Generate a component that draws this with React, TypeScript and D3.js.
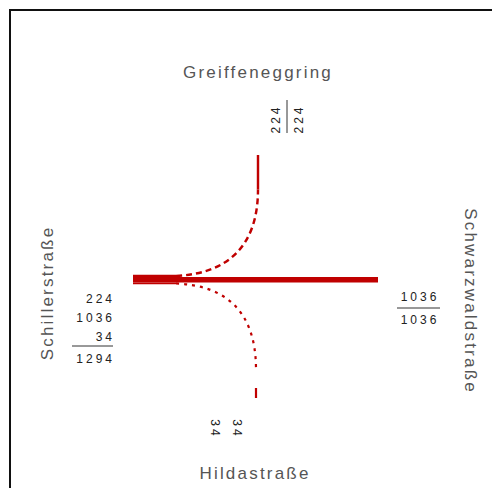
import React from "react";
import * as d3 from "d3";

// ---- data ----
const streetNames = ["Greiffeneggring", "Schwarzwaldstraße", "Hildastraße", "Schillerstraße"]; // N, E, S, W
const flowFrom = ["Schillerstraße", "Schillerstraße", "Schillerstraße"];
const flowTo = ["Greiffeneggring", "Schwarzwaldstraße", "Hildastraße"];
const flowValues = [224, 1036, 34];
const westLabels = [224, 1036, 34];
const westTotal = [1294];
const eastLabels = [1036, 1036];
const northLabels = [224, 224];
const southLabels = [34, 34];

const W = 492;
const H = 488;
const RED = "#c00000";
const FONT = "'Liberation Sans', Arial, Helvetica, sans-serif";

export default function App() {
  // layout
  const nodeX = 257;
  const mainY = 279.5;
  const westX = 133;
  const eastX = 378;
  const northY = 155;
  const southY = 400;
  const splitX = 176;

  const wScale = d3.scaleLinear().domain([0, 1036]).range([1.6, 5.5]);
  const widths = flowValues.map((v) => wScale(v));
  const total = d3.sum(widths);
  // stack at west approach: north-bound on top, straight, south-bound at bottom
  let acc = mainY - total / 2;
  const centers = widths.map((w) => {
    const c = acc + w / 2;
    acc += w;
    return c;
  });

  const paths: { d: string; w: number; dash?: string }[] = [];
  flowTo.forEach((to, i) => {
    const yc = centers[i];
    const w = widths[i];
    if (to === streetNames[1]) {
      const p = d3.path();
      p.moveTo(westX, yc);
      p.lineTo(eastX, yc);
      paths.push({ d: p.toString(), w });
    } else {
      const north = to === streetNames[0];
      const dir = north ? -1 : 1;
      const x = nodeX + (north ? 1 : -1);
      const endY = north ? northY : southY;
      const bendEnd = mainY + dir * 90;
      // straight part inside the bundle
      const p1 = d3.path();
      p1.moveTo(westX, yc);
      p1.lineTo(splitX, yc);
      paths.push({ d: p1.toString(), w });
      // curve
      const p2 = d3.path();
      p2.moveTo(splitX, yc);
      p2.bezierCurveTo(splitX + 48, yc + dir * 2, x, mainY + dir * 30, x, bendEnd);
      paths.push({ d: p2.toString(), w: Math.max(w, 2.2), dash: north ? "6,4" : "3,5" });
      // vertical part (drawn from the arm end inwards)
      const p3 = d3.path();
      p3.moveTo(x, north ? endY : endY - 2);
      p3.lineTo(x, bendEnd);
      paths.push({ d: p3.toString(), w: Math.max(w, 2.2), dash: north ? undefined : "10,40" });
    }
  });

  const titleStyle = { fontFamily: FONT, fontSize: 17, fill: "#555", letterSpacing: 2.2 } as const;
  const numStyle = { fontFamily: FONT, fontSize: 12, fill: "#222", letterSpacing: 3 } as const;

  return (
    <svg width={W} height={H} style={{ position: "absolute", left: 0, top: 0, background: "#fff" }}>
      <rect x={10} y={10} width={W + 20} height={H + 20} fill="none" stroke="#111" strokeWidth={2} />

      {paths.map((p, i) => (
        <path
          key={i}
          d={p.d}
          fill="none"
          stroke={RED}
          strokeWidth={p.w}
          strokeDasharray={p.dash}
          strokeLinecap="butt"
        />
      ))}

      {/* street names */}
      <text x={nodeX + 1} y={78} textAnchor="middle" style={titleStyle}>{streetNames[0]}</text>
      <text x={255} y={479} textAnchor="middle" style={titleStyle}>{streetNames[2]}</text>
      <text transform="translate(53,293) rotate(-90)" textAnchor="middle" style={titleStyle}>{streetNames[3]}</text>
      <text transform="translate(465,301) rotate(90)" textAnchor="middle" style={titleStyle}>{streetNames[1]}</text>

      {/* west numbers */}
      {westLabels.map((v, i) => (
        <text key={i} x={115} y={303 + i * 19} textAnchor="end" style={numStyle}>{v}</text>
      ))}
      <line x1={72} x2={113} y1={346} y2={346} stroke="#333" strokeWidth={1} />
      <text x={115} y={363} textAnchor="end" style={numStyle}>{westTotal[0]}</text>

      {/* east numbers */}
      <text x={420} y={301} textAnchor="middle" style={numStyle}>{eastLabels[0]}</text>
      <line x1={397} x2={440} y1={308} y2={308} stroke="#333" strokeWidth={1} />
      <text x={420} y={324} textAnchor="middle" style={numStyle}>{eastLabels[1]}</text>

      {/* north numbers */}
      <text transform="translate(280,119) rotate(-90)" textAnchor="middle" style={numStyle}>{northLabels[0]}</text>
      <line x1={287} x2={287} y1={100} y2={133} stroke="#333" strokeWidth={1} />
      <text transform="translate(303,119) rotate(-90)" textAnchor="middle" style={numStyle}>{northLabels[1]}</text>

      {/* south numbers */}
      <text transform="translate(211,429) rotate(90)" textAnchor="middle" style={numStyle}>{southLabels[0]}</text>
      <text transform="translate(233,429) rotate(90)" textAnchor="middle" style={numStyle}>{southLabels[1]}</text>
    </svg>
  );
}
